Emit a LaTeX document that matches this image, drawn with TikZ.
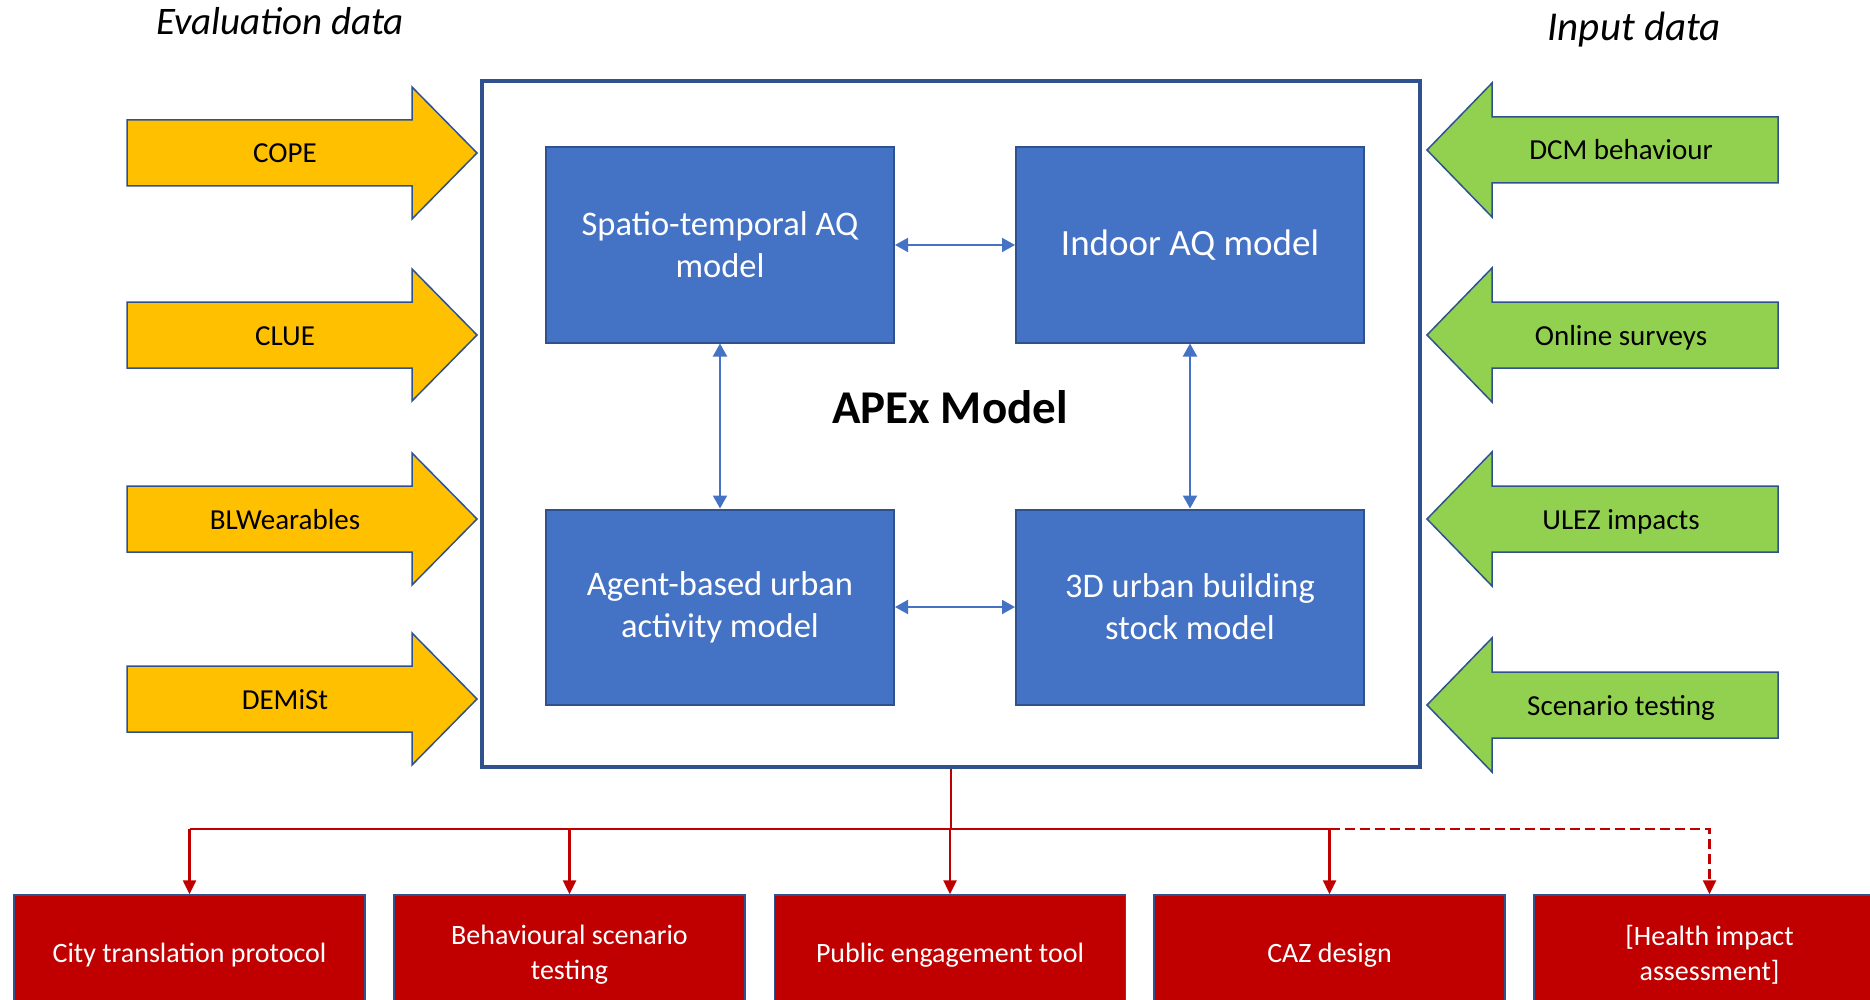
\documentclass[tikz,border=0pt]{standalone}
\usepackage{fontspec}
\setmainfont{Carlito}
\usepackage{xcolor}
\usepackage{tikz}
\usetikzlibrary{arrows.meta}

\definecolor{modelblue}{HTML}{4472C4}
\definecolor{edgeblue}{HTML}{2F528F}
\definecolor{evalorange}{HTML}{FFC000}
\definecolor{inputgreen}{HTML}{92D050}
\definecolor{outred}{HTML}{C00000}

\begin{document}
\begin{tikzpicture}[x=1pt,y=-1pt,
  model/.style={draw=edgeblue,line width=2pt,fill=modelblue,text=white,minimum width=348pt,minimum height=195pt,align=center,font=\fontsize{34.5}{42}\selectfont},
  output/.style={draw=edgeblue,line width=1.5pt,fill=outred,text=white,minimum width=351pt,minimum height=120pt,align=center,font=\fontsize{28}{35}\selectfont},
  blockarrow/.style={draw=edgeblue,line width=1.5pt},
  arrowtext/.style={anchor=base,font=\fontsize{29}{35}\selectfont},
  link/.style={modelblue,line width=2pt,{Triangle[length=13pt,width=14pt]}-{Triangle[length=13pt,width=14pt]}},
  feed/.style={outred,line width=2.5pt},
  feedtip/.style={-{Triangle[length=14pt,width=13pt]}}]

\useasboundingbox[fill=white] (0,0) rectangle (1870,1000);

\node[font=\itshape\fontsize{39}{47}\selectfont,anchor=base] (evaltitle) at (280,35) {Evaluation data};
\node[font=\itshape\fontsize{41}{49}\selectfont,anchor=base] (inputtitle) at (1634,41) {Input data};

% the APEx model and its four parts
\node[draw=edgeblue,line width=3.5pt,minimum width=938pt,minimum height=686pt] (apex) at (951,424) {};
\node[font=\bfseries\fontsize{47}{56}\selectfont,anchor=base] (apexname) at (950,423) {APEx Model};

\node[model] (spatial) at (720,245) {Spatio-temporal AQ\\model};
\node[model,font=\fontsize{37}{44}\selectfont] (indoor) at (1190,245) {Indoor AQ model};
\node[model] (agent) at (720,607) {Agent-based urban\\activity model};
\node[model] (stock) at (1190,607) {3D urban building\\stock model};

\draw[link] (spatial) -- (indoor);
\draw[link] (agent) -- (stock);
\draw[link] (spatial) -- (agent);
\draw[link] (indoor) -- (stock);

% evaluation data on the left, input data on the right
\foreach \y/\name/\txt in {153/cope/COPE, 335/clue/CLUE, 519/blw/BLWearables, 699/demist/DEMiSt} {
  \filldraw[blockarrow,fill=evalorange] (127,\y-33) -- (412,\y-33) -- (412,\y-66) -- (477,\y) -- (412,\y+66) -- (412,\y+33) -- (127,\y+33) -- cycle;
  \node[arrowtext] (\name) at (285,\y+10) {\txt};
}
\foreach \y/\name/\txt in {150/dcm/DCM behaviour, 335/survey/Online surveys, 519/ulez/ULEZ impacts, 705/scenario/Scenario testing} {
  \filldraw[blockarrow,fill=inputgreen] (1778,\y-33) -- (1492,\y-33) -- (1492,\y-67) -- (1427,\y) -- (1492,\y+67) -- (1492,\y+33) -- (1778,\y+33) -- cycle;
  \node[arrowtext] (\name) at (1621,\y+10) {\txt};
}

% outputs
\node[output] (city) at (189.5,955) {City translation protocol};
\node[output] (behav) at (569.5,955) {Behavioural scenario\\testing};
\node[output] (engage) at (950,955) {Public engagement tool};
\node[output] (caz) at (1329.5,955) {CAZ design};
\node[output] (health) at (1709.5,955) {[Health impact\\assessment]};

\coordinate (hub) at (951,829);
\draw[feed] (apex.south) -- (hub);
\draw[feed] (city.north |- hub) -- (caz.north |- hub);
\foreach \n in {city,behav,engage,caz}
  \draw[feed,feedtip] (\n.north |- hub) -- (\n.north);
\draw[feed,feedtip,dash pattern=on 10pt off 5pt] (caz.north |- hub) -- (health.north |- hub) -- (health.north);
\end{tikzpicture}
\end{document}
